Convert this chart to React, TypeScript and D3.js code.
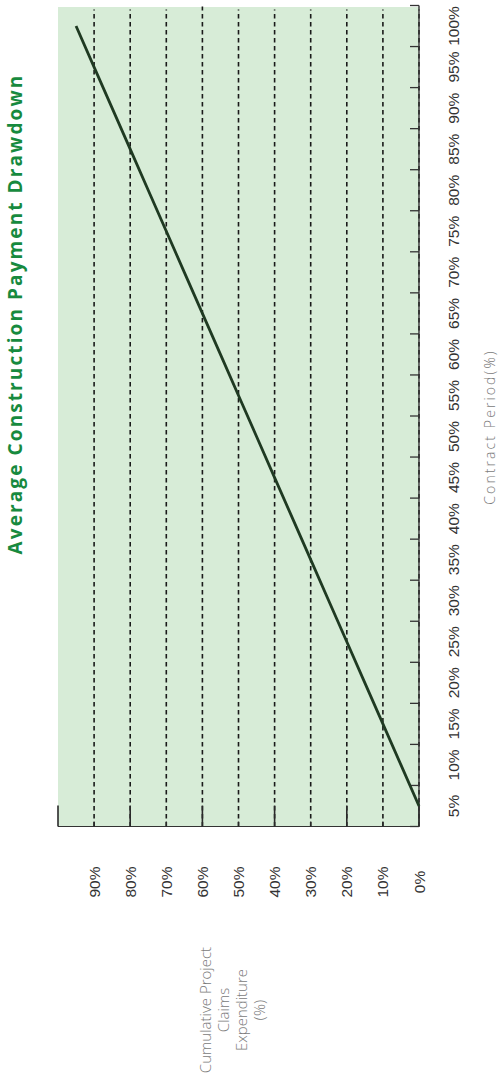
import React from "react";
import * as d3 from "d3";

const periods = ["5%", "10%", "15%", "20%", "25%", "30%", "35%", "40%", "45%", "50%", "55%", "60%", "65%", "70%", "75%", "80%", "85%", "90%", "95%", "100%"];
const cumulative = [0, 5, 10, 15, 20, 25, 30, 35, 40, 45, 50, 55, 60, 65, 70, 75, 80, 85, 90, 95];
const gridValues = [0, 10, 20, 30, 40, 50, 60, 70, 80, 90];
const majorTicks = [0, 20, 40, 60, 80, 100];
const minorTicks = [10, 30, 50, 70, 90];
const titleText = "Average Construction Payment Drawdown";
const xTitle = "Contract Period(%)";
const yTitleLines = ["Cumulative Project", "Claims", "Expenditure", "(%)"];

const W = 1079; // landscape width (screen height)
const H = 498; // landscape height (screen width)

export default function App() {
  const left = 252.5, right = 1073.5, top = 58, bottom = 419;
  const x = d3.scaleBand<string>().domain(periods).range([left, right]).paddingInner(0).paddingOuter(0);
  const y = d3.scaleLinear().domain([0, 100]).range([bottom, top]);
  const bw = x.bandwidth();
  const line = d3
    .line<number>()
    .x((_, i) => (x(periods[i]) as number) + bw / 2)
    .y((d) => y(d));
  const boundaries = periods.map((p) => x(p) as number).concat([right]);
  const lightFont = "'Open Sans', 'Noto Sans', sans-serif";
  const tickFont = "'Liberation Sans', Arial, Helvetica, sans-serif";

  return (
    <svg width={H} height={W} style={{ position: "absolute", left: 0, top: 0 }}>
      <g transform={`translate(0,${W}) rotate(-90)`}>
        <rect x={left} y={top} width={right - left - 1.5} height={bottom - top} fill="#d7ecd7" />
        {gridValues.map((v) => (
          <line
            key={"g" + v}
            x1={left}
            x2={v === 60 ? right - 1 : right - 4}
            y1={y(v)}
            y2={y(v)}
            stroke="#1a1a1a"
            strokeWidth={1.6}
            strokeDasharray="4.5,3.5"
          />
        ))}
        {/* vertical (value) axis */}
        <line x1={left} x2={left} y1={top} y2={bottom} stroke="#333" strokeWidth={1.2} />
        {majorTicks.map((v) => (
          <line key={"mj" + v} x1={left} x2={left + 21} y1={y(v)} y2={y(v)} stroke="#2a2a2a" strokeWidth={1.6} />
        ))}
        {minorTicks.map((v) => (
          <line key={"mn" + v} x1={left} x2={left + 5} y1={y(v)} y2={y(v)} stroke="#2a2a2a" strokeWidth={1.4} />
        ))}
        {gridValues.map((v) => (
          <text
            key={"yl" + v}
            x={197}
            y={y(v)}
            textAnchor="middle"
            dominantBaseline="central"
            fontFamily={tickFont}
            fontSize={15.5}
            fill="#333"
          >
            {v + "%"}
          </text>
        ))}
        {/* horizontal (period) axis */}
        <line x1={left} x2={right} y1={bottom} y2={bottom} stroke="#333" strokeWidth={1.4} />
        {boundaries.map((b, i) => (
          <line key={"xt" + i} x1={b} x2={b} y1={bottom} y2={bottom - 9} stroke="#333" strokeWidth={1.3} />
        ))}
        {periods.map((p) => (
          <text
            key={"xl" + p}
            x={(x(p) as number) + bw / 2}
            y={453}
            textAnchor="middle"
            dominantBaseline="central"
            fontFamily={tickFont}
            fontSize={15.5}
            fill="#333"
          >
            {p}
          </text>
        ))}
        <path d={line(cumulative) || ""} fill="none" stroke="#1f3a22" strokeWidth={2.8} />
        <text
          x={652}
          y={489}
          textAnchor="middle"
          dominantBaseline="central"
          fontFamily={lightFont}
          fontWeight={300}
          fontSize={14}
          letterSpacing={2.1}
          fill="#7a7a7a"
        >
          {xTitle}
        </text>
        {yTitleLines.map((t, i) => (
          <text
            key={"yt" + i}
            x={69}
            y={205 + i * 18}
            textAnchor="middle"
            dominantBaseline="central"
            fontFamily={lightFont}
            fontWeight={300}
            fontSize={15}
            fill="#7a7a7a"
          >
            {t}
          </text>
        ))}
        <text
          x={765}
          y={15}
          textAnchor="middle"
          dominantBaseline="central"
          fontFamily="'Open Sans', 'Noto Sans', sans-serif"
          fontWeight={700}
          fontSize={19}
          letterSpacing={2.1}
          fill="#178a3e"
        >
          {titleText}
        </text>
      </g>
    </svg>
  );
}
